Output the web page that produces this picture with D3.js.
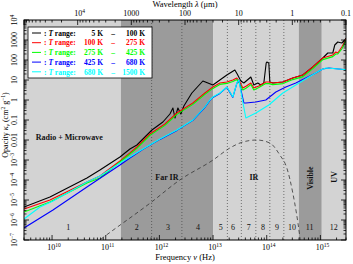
<!DOCTYPE html>
<html>
<head>
<meta charset="utf-8">
<script src="https://cdn.jsdelivr.net/npm/d3@7"></script>
<style>
  body { margin: 0; background: #fff; }
  svg { display: block; }
</style>
</head>
<body>
<div id="chart"></div>
<script>
// values are [log10 frequency (Hz), log10 opacity (cm^2/g)]
const kappaT5to100 = [
  [9.477,-5.35],[9.961,-4.85],[10.650,-3.9],[10.892,-3.5],[11.265,-2.85],[11.451,-2.45],
  [11.581,-2.25],[11.861,-1.5],[12.065,-1.1],[12.196,-0.7],[12.252,-0.4],[12.29,-0.9],
  [12.345,-0.4],[12.40,-0.7],[12.456,-0.3],[12.605,0.35],[12.810,0.95],[12.904,0.85],
  [12.997,0.75],[13.127,1.0],[13.257,1.25],[13.406,1.5],[13.45,1.3],[13.518,0.95],
  [13.574,0.85],[13.704,1.15],[13.760,0.75],[13.834,0.85],[13.890,0.75],[13.946,0.85],
  [13.99,1.85],[14.002,1.9],[14.039,1.85],[14.058,0.9],[14.114,0.85],[14.300,0.9],
  [14.486,1.1],[14.673,1.25],[14.859,1.65],[15.045,2.1],[15.138,2.35],[15.231,2.35],
  [15.268,2.75],[15.324,2.9],[15.399,2.85],[15.455,3.0],[15.48,3.1]
];
const kappaT100to275 = [
  [9.477,-5.45],[9.961,-5.0],[10.650,-4.1],[10.892,-3.8],[11.265,-3.05],[11.451,-2.65],
  [11.581,-2.35],[11.823,-1.7],[12.103,-1.2],[12.326,-0.65],[12.624,-0.15],[12.848,0.35],
  [12.997,0.65],[13.127,0.85],[13.257,0.9],[13.369,1.0],[13.443,1.1],[13.499,0.9],
  [13.555,0.6],[13.62,0.7],[13.704,0.85],[13.760,0.6],[13.853,0.7],[13.983,0.9],
  [14.039,0.9],[14.114,0.85],[14.300,0.9],[14.486,1.1],[14.673,1.25],[14.859,1.65],
  [15.045,2.1],[15.231,2.25],[15.287,2.4],[15.324,2.35],[15.399,2.65],[15.492,3.1]
];
const kappaT275to425 = [
  [9.477,-5.6],[9.961,-5.1],[10.650,-4.15],[10.892,-3.9],[11.265,-3.1],[11.451,-2.7],
  [11.581,-2.42],[11.823,-1.77],[12.103,-1.27],[12.326,-0.72],[12.624,-0.22],[12.848,0.28],
  [12.997,0.58],[13.127,0.78],[13.257,0.83],[13.369,0.93],[13.443,1.02],[13.499,0.8],
  [13.555,0.5],[13.62,0.6],[13.704,0.77],[13.760,0.5],[13.853,0.62],[13.983,0.82],
  [14.039,0.82],[14.114,0.77],[14.300,0.82],[14.486,1.02],[14.673,1.17],[14.859,1.57],
  [15.045,2.02],[15.231,2.17],[15.287,2.3],[15.324,2.3],[15.399,2.55],[15.492,3.05]
];
const kappaT425to680 = [
  [9.477,-6.4],[10.017,-5.5],[10.650,-4.35],[11.265,-3.25],[11.451,-2.9],[11.693,-2.47],
  [12.010,-1.97],[12.326,-1.52],[12.624,-1.02],[12.848,-0.37],[12.941,-0.02],[12.997,0.13],
  [13.127,0.33],[13.257,0.63],[13.313,0.38],[13.369,0.13],[13.443,0.83],[13.481,0.98],
  [13.537,0.3],[13.574,-0.15],[13.611,-0.15],[13.797,-0.1],[13.983,0.0],[14.170,0.4],
  [14.356,0.65],[14.542,0.85],[14.728,1.1],[14.915,1.35],[15.045,1.55],[15.157,1.6],
  [15.343,1.55],[15.511,1.5]
];
const kappaT680to1500 = [
  [9.477,-5.95],[9.775,-5.35],[10.017,-5.05],[10.650,-4.1],[10.892,-3.8],[11.265,-3.15],
  [11.451,-2.85],[11.693,-2.45],[12.010,-1.95],[12.326,-1.5],[12.624,-1.0],[12.848,-0.35],
  [12.941,0.0],[12.997,0.15],[13.127,0.35],[13.257,0.65],[13.313,0.4],[13.369,0.15],
  [13.443,0.85],[13.481,1.0],[13.537,0.15],[13.611,-0.9],[13.797,-0.65],[14.039,-0.25],
  [14.300,0.35],[14.542,0.75],[14.784,1.15],[15.008,1.5],[15.101,1.6],[15.343,1.55],
  [15.511,1.5]
];
const seriesData = [kappaT5to100, kappaT100to275, kappaT275to425, kappaT425to680, kappaT680to1500];
const rangeLow = ["5 K", "100 K", "275 K", "425 K", "680 K"];
const rangeHigh = ["100 K", "275 K", "425 K", "680 K", "1500 K"];
const seriesColors = ["#000000", "#ff0000", "#00ff00", "#0000ff", "#00ffff"];

// blackbody-like reference curve, arbitrary units
const referenceCurve = [
  [10.6,-7.6],[10.89,-7.0],[11.855,-5.1],[12.38,-4.0],[13.0,-3.0],[13.313,-2.4],
  [13.555,-2.1],[13.816,-2.0],[14.058,-2.15],[14.244,-2.75],[14.375,-3.4],
  [14.486,-4.65],[14.617,-6.85],[14.65,-7.6]
];

// spectral bands [from, to, dark?] in log10 Hz
const bands = [[9.477, 11.283, 0], [11.283, 13.0, 1], [13.0, 14.598, 0], [14.598, 15.026, 1], [15.026, 15.477, 0]];
const dividers = [11.855, 12.419, 13.267, 13.527, 13.797, 14.058, 14.319];
const regionNumbers = ["1","2","3","4","5","6","7","8","9","10","11","12"];
const regionNumberAt = [10.30, 11.58, 12.16, 12.72, 13.145, 13.37, 13.667, 13.93, 14.19, 14.47, 14.80, 15.25];

const freqTicks = [10, 11, 12, 13, 14, 15];
const waveTicks = [1e4, 1000, 100, 10, 1, 0.1];
const waveLabels = [["10", "4"], ["1000"], ["100"], ["10"], ["1"], ["0.1"]];
const kappaTicks = [-7, -6, -5, -4, -3, -2, -1, 0, 1, 2, 3, 4];
const kappaLabels = [["10","\u22127"],["10","\u22126"],["10","\u22125"],["10","\u22124"],["10","\u22123"],
  ["0.01"],["0.1"],["1"],["10"],["100"],["1000"],["10","4"]];

const width = 353, height = 264;
const margin = { top: 20, right: 7, bottom: 24, left: 24 };
const font = "'Liberation Serif', 'DejaVu Serif', serif";

const svg = d3.select("#chart").append("svg")
  .attr("width", width).attr("height", height)
  .style("font-family", font);

const x = d3.scaleLog().domain([3e9, 3e15]).range([margin.left, width - margin.right]);
const y = d3.scaleLog().domain([1e-7, 1e4]).range([height - margin.bottom, margin.top]);
const X = v => x(Math.pow(10, v));
const Y = v => y(Math.pow(10, v));
const x0 = margin.left, x1 = width - margin.right, y0 = margin.top, y1 = height - margin.bottom;

svg.append("clipPath").attr("id", "plot-clip")
  .append("rect").attr("x", x0).attr("y", y0).attr("width", x1 - x0).attr("height", y1 - y0);

// background bands
svg.append("g").selectAll("rect").data(bands).join("rect")
  .attr("x", d => X(d[0]))
  .attr("y", y0)
  .attr("width", d => X(d[1]) - X(d[0]))
  .attr("height", y1 - y0)
  .attr("fill", d => d[2] ? "#9b9b9b" : "#d3d3d3");

svg.append("g").selectAll("line").data(dividers).join("line")
  .attr("x1", d => X(d)).attr("x2", d => X(d))
  .attr("y1", y0).attr("y2", y1)
  .attr("stroke", "#444")
  .attr("stroke-width", 0.7)
  .attr("stroke-dasharray", "1,2");

svg.append("g").selectAll("text").data(regionNumbers).join("text")
  .attr("x", (d, i) => X(regionNumberAt[i]))
  .attr("y", 230)
  .attr("text-anchor", "middle")
  .attr("font-size", 8)
  .attr("fill", "#111")
  .text(d => d);

const labelStyle = sel => sel.attr("font-size", 8).attr("font-weight", "bold").attr("fill", "#111");
svg.append("text").call(labelStyle).attr("x", X(10.32)).attr("y", Y(-1.85) + 3)
  .attr("text-anchor", "middle").text("Radio + Microwave");
svg.append("text").call(labelStyle).attr("x", X(12.14)).attr("y", Y(-3.85) + 3)
  .attr("text-anchor", "middle").text("Far IR");
svg.append("text").call(labelStyle).attr("x", X(13.76)).attr("y", Y(-3.85) + 3)
  .attr("text-anchor", "middle").text("IR");
svg.append("text").call(labelStyle).attr("text-anchor", "middle")
  .attr("transform", `translate(${X(14.80) + 3},${Y(-3.9)}) rotate(-90)`).text("Visible");
svg.append("text").call(labelStyle).attr("text-anchor", "middle")
  .attr("transform", `translate(${X(15.25) + 3},${Y(-3.85)}) rotate(-90)`).text("UV");

const plot = svg.append("g").attr("clip-path", "url(#plot-clip)");

const line = d3.line().x(d => X(d[0])).y(d => Y(d[1]));

plot.append("path")
  .datum(referenceCurve)
  .attr("fill", "none")
  .attr("stroke", "#333")
  .attr("stroke-width", 0.8)
  .attr("stroke-dasharray", "4,3")
  .attr("d", line.curve(d3.curveMonotoneX));

seriesData.forEach((values, i) => {
  plot.append("path")
    .datum(values)
    .attr("fill", "none")
    .attr("stroke", seriesColors[i])
    .attr("stroke-width", 1.1)
    .attr("stroke-linejoin", "round")
    .attr("d", d3.line().x(d => X(d[0])).y(d => Y(d[1])));
});

// frame
svg.append("rect")
  .attr("x", x0).attr("y", y0).attr("width", x1 - x0).attr("height", y1 - y0)
  .attr("fill", "none").attr("stroke", "#000").attr("stroke-width", 1);

// ticks
const ticks = svg.append("g").attr("stroke", "#000").attr("stroke-width", 0.8);
const minorFreq = [];
for (let e = 9; e <= 15; e++) for (let m = 1; m < 10; m++) {
  const v = m * Math.pow(10, e);
  if (v >= 3e9 && v <= 3e15) minorFreq.push({ v, major: m === 1 });
}
minorFreq.forEach(t => {
  const len = t.major ? 5 : 2.5;
  ticks.append("line").attr("x1", x(t.v)).attr("x2", x(t.v)).attr("y1", y1).attr("y2", y1 - len);
});
const minorWave = [];
for (let e = -1; e <= 5; e++) for (let m = 1; m < 10; m++) {
  const lam = m * Math.pow(10, e);
  const nu = 3e14 / lam;
  if (nu >= 3e9 && nu <= 3e15) minorWave.push({ nu, major: m === 1 });
}
minorWave.forEach(t => {
  const len = t.major ? 5 : 2.5;
  ticks.append("line").attr("x1", x(t.nu)).attr("x2", x(t.nu)).attr("y1", y0).attr("y2", y0 + len);
});
for (let e = -7; e <= 4; e++) for (let m = 1; m < 10; m++) {
  const v = m * Math.pow(10, e);
  if (v > 1e4) continue;
  const len = m === 1 ? 5 : 2.5;
  ticks.append("line").attr("x1", x0).attr("x2", x0 + len).attr("y1", y(v)).attr("y2", y(v));
  ticks.append("line").attr("x1", x1).attr("x2", x1 - len).attr("y1", y(v)).attr("y2", y(v));
}

function powerText(sel, parts) {
  sel.append("tspan").text(parts[0]);
  if (parts.length > 1) {
    sel.append("tspan").attr("dy", -3.5).attr("font-size", 5.5).text(parts[1]);
  }
}

// bottom labels
freqTicks.forEach(e => {
  const t = svg.append("text")
    .attr("x", x(Math.pow(10, e)) + 2)
    .attr("y", 250)
    .attr("text-anchor", "middle")
    .attr("font-size", 8)
    .attr("fill", "#000");
  powerText(t, ["10", String(e)]);
});

// top labels
waveTicks.forEach((lam, i) => {
  const t = svg.append("text")
    .attr("x", x(3e14 / lam) + (waveLabels[i].length > 1 ? 2 : 0))
    .attr("y", 16)
    .attr("text-anchor", "middle")
    .attr("font-size", 8)
    .attr("fill", "#000");
  powerText(t, waveLabels[i]);
});

// left labels, rotated
kappaTicks.forEach((e, i) => {
  const t = svg.append("text")
    .attr("transform", `translate(17,${y(Math.pow(10, e))}) rotate(-90)`)
    .attr("text-anchor", "middle")
    .attr("font-size", 8)
    .attr("fill", "#000");
  powerText(t, kappaLabels[i]);
});

// axis titles
const freqTitle = svg.append("text")
  .attr("x", (x0 + x1) / 2).attr("y", 260)
  .attr("text-anchor", "middle").attr("font-size", 8.5).attr("fill", "#000");
freqTitle.append("tspan").text("Frequency ");
freqTitle.append("tspan").attr("font-style", "italic").text("\u03bd");
freqTitle.append("tspan").text(" (Hz)");

const waveTitle = svg.append("text")
  .attr("x", (x0 + x1) / 2).attr("y", 7)
  .attr("text-anchor", "middle").attr("font-size", 8.5).attr("fill", "#000");
waveTitle.append("tspan").text("Wavelength ");
waveTitle.append("tspan").attr("font-style", "italic").text("\u03bb");
waveTitle.append("tspan").text(" (\u03bcm)");

const kTitle = svg.append("text")
  .attr("transform", `translate(8,${(y0 + y1) / 2 - 5}) rotate(-90)`)
  .attr("text-anchor", "middle").attr("font-size", 8).attr("fill", "#000");
kTitle.append("tspan").text("Opacity ");
kTitle.append("tspan").attr("font-style", "italic").text("\u03ba");
kTitle.append("tspan").attr("dy", 2).attr("font-size", 5.5).attr("font-style", "italic").text("\u03bd");
kTitle.append("tspan").attr("dy", -2).text(" (cm");
kTitle.append("tspan").attr("dy", -3).attr("font-size", 5.5).text("2");
kTitle.append("tspan").attr("dy", 3).text(" g");
kTitle.append("tspan").attr("dy", -3).attr("font-size", 5.5).text("\u22121");
kTitle.append("tspan").attr("dy", 3).text(")");

// legend
const legend = svg.append("g");
legend.append("rect")
  .attr("x", 28).attr("y", 27).attr("width", 124).attr("height", 51)
  .attr("fill", "#fff").attr("stroke", "#000").attr("stroke-width", 0.8);
rangeLow.forEach((lo, i) => {
  const cy = 33 + i * 9.7;
  const c = seriesColors[i];
  legend.append("line")
    .attr("x1", 32).attr("x2", 41).attr("y1", cy).attr("y2", cy)
    .attr("stroke", c).attr("stroke-width", 1);
  const g = legend.append("g")
    .attr("fill", c).attr("font-size", 7.5).attr("font-weight", "bold");
  const ty = cy + 2.7;
  const t = g.append("text").attr("x", 44).attr("y", ty);
  t.append("tspan").text(": ");
  t.append("tspan").attr("font-style", "italic").text("T");
  t.append("tspan").text(" range:");
  g.append("text").attr("x", 103).attr("y", ty).attr("text-anchor", "end").text(lo);
  g.append("text").attr("x", 113).attr("y", ty).attr("text-anchor", "middle").text("\u2013");
  g.append("text").attr("x", 145).attr("y", ty).attr("text-anchor", "end").text(rangeHigh[i]);
});
</script>
</body>
</html>
